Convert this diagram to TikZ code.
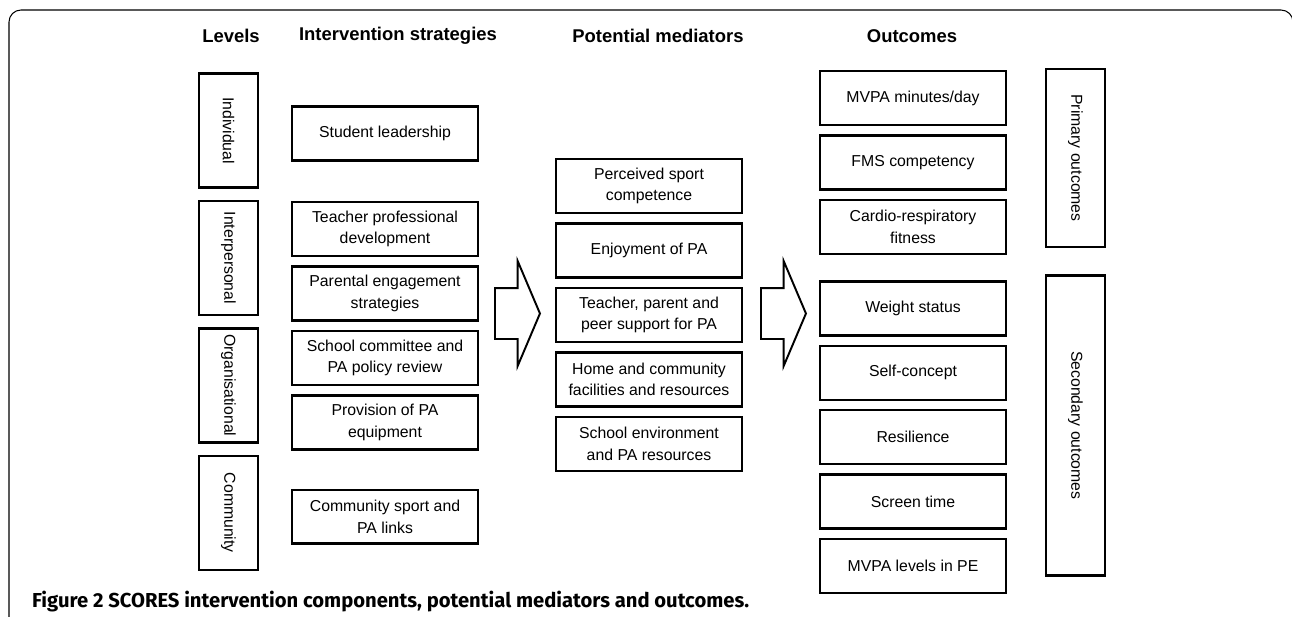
\documentclass[tikz,border=0pt]{standalone}
\usepackage{fontspec}
\setmainfont{Liberation Sans}
\newfontfamily\capfont{Fira Sans}
\usepackage{graphicx}
\usetikzlibrary{positioning}
\usetikzlibrary{shapes.arrows}
\tikzstyle{box} = [draw, line width=1.4pt,
minimum width=3.72cm,
minimum height=1.08cm, inner sep=1pt, align=center,
font=\fontsize{9}{12.3}\selectfont]
\tikzstyle{tag} = [draw, line width=1.4pt,
minimum width=1.18cm, inner sep=0pt,
font=\fontsize{9}{11}\selectfont]
\tikzstyle{head} = [font=\fontsize{10.5}{12}\selectfont\bfseries]
\tikzstyle{bigarrow} = [single arrow, draw, line width=1.1pt,
minimum height=0.9cm, % length of the arrow
inner xsep=0pt, inner ysep=0.49cm, % gives the shaft its width
single arrow head extend=0.54cm,
single arrow tip angle=134, anchor=tail]

\begin{document}
\begin{tikzpicture}[
  x=0.02cm, y=-0.02cm, % pixel units
  node distance=0.16cm, % gap between stacked boxes
]
  \useasboundingbox (0,0) rectangle (1292,616);
  \draw [line width=0.6pt, rounded corners=0.24cm] (9,640) -- (9,10) -- (1293,10) -- (1293,640);

  \node[head] (hlev) at (231,36) {Levels};
  \node[head] (hstr) at (398,36) {Intervention strategies};
  \node[head] (hmed) at (658,36) {Potential mediators};
  \node[head] (hout) at (912,36) {Outcomes};

  \node[tag, minimum height=2.28cm] (indiv) at (228.5,130.5) {\rotatebox{-90}{Individual}};
  \node[tag, minimum height=2.28cm, below=0.22cm of indiv] (inter) {\rotatebox{-90}{Interpersonal}};
  \node[tag, minimum height=2.28cm, below=0.22cm of inter] (organ) {\rotatebox{-90}{Organisational}};
  \node[tag, minimum height=2.28cm, below=0.22cm of organ] (commu) {\rotatebox{-90}{Community}};

  \node[box] (lead) at (385,133.5) {Student leadership};
  \node[box, below=0.78cm of lead] (prof)   {Teacher professional\\development};
  \node[box, below=of prof]        (parent) {Parental engagement\\strategies};
  \node[box, below=of parent]      (cttee)  {School committee and\\PA policy review};
  \node[box, below=of cttee]       (equip)  {Provision of PA\\equipment};
  \node[box, below=0.76cm of equip] (links) {Community sport and\\PA links};

  \node[bigarrow] (arra) at (494,313.5) {};

  \node[box] (sport) at (649,186) {Perceived sport\\competence};
  \node[box, below=of sport]   (enjoy)   {Enjoyment of PA};
  \node[box, below=of enjoy]   (support) {Teacher, parent and\\peer support for PA};
  \node[box, below=of support] (home)    {Home and community\\facilities and resources};
  \node[box, below=of home]    (school)  {School environment\\and PA resources};

  \node[bigarrow] (arrb) at (760,313.5) {};

  \node[box] (mvpa) at (913,98) {MVPA minutes/day};
  \node[box, below=of mvpa]         (fms)    {FMS competency};
  \node[box, below=of fms]          (cardio) {Cardio-respiratory\\fitness};
  \node[box, below=0.5cm of cardio] (weight) {Weight status};
  \node[box, below=of weight]       (self)   {Self-concept};
  \node[box, below=of self]         (resil)  {Resilience};
  \node[box, below=of resil]        (screen) {Screen time};
  \node[box, below=of screen]       (mvpape) {MVPA levels in PE};

  \node[tag, minimum height=3.56cm] (prim) at (1075.5,158) {\rotatebox{-90}{Primary outcomes}};
  \node[tag, minimum height=6cm, below=0.52cm of prim] (secon) {\rotatebox{-90}{Secondary outcomes}};

  \node[anchor=base west, font=\capfont\fontsize{11.5}{13}\selectfont\bfseries] (cap) at (26,607)
    {Figure 2 SCORES intervention components, potential mediators and outcomes.};
\end{tikzpicture}
\end{document}
